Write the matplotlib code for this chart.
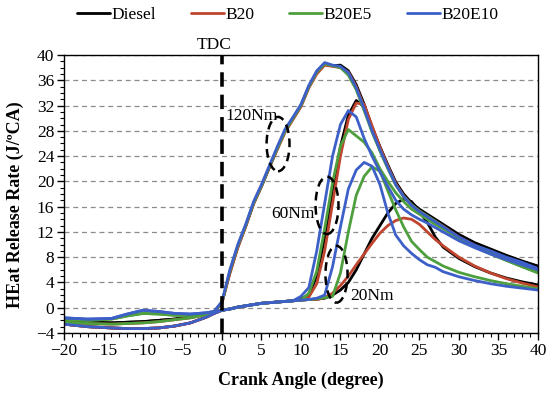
import matplotlib
matplotlib.use("Agg")
import matplotlib.pyplot as plt
from matplotlib.patches import Ellipse

plt.rcParams['font.family'] = ['Liberation Serif', 'DejaVu Serif']
plt.rcParams['font.size'] = 12.5

# crank angle grid (degree)
crank = [-20, -17, -14, -12, -10, -8, -6, -4, -2, -1,
         0, 1, 2, 3, 4, 5, 6, 7, 8, 9, 10, 11, 12, 13, 14, 15, 16, 17, 18, 19,
         20, 21, 22, 23, 24, 25, 26, 27, 28,
         30, 32, 34, 36, 38, 40]

# heat release rate (J/ºCA), 120 Nm
diesel_120 = [-2.2, -2.3, -2.4, -2.3, -2.2, -2.0, -1.8, -1.5, -1.0, -0.7,
              0.8, 5.6, 9.6, 12.9, 16.5, 19.2, 22.2, 25.2, 28.0, 30.0, 32.0, 35.0, 37.2, 38.5, 38.3, 38.4, 37.5, 35.3, 32.2, 28.6,
              25.5, 22.6, 19.9, 18.0, 16.6, 15.6, 14.8, 14.0, 13.2,
              11.6, 10.3, 9.3, 8.3, 7.4, 6.6]
b20_120 = [-2.3, -2.5, -2.6, -2.5, -2.4, -2.2, -1.9, -1.6, -1.1, -0.7,
           0.8, 5.4, 9.5, 12.8, 16.4, 19.2, 22.2, 25.0, 27.8, 29.8, 31.8, 34.8, 37.0, 38.4, 38.2, 38.0, 37.3, 35.0, 31.8, 28.3,
           25.2, 22.3, 19.6, 17.7, 16.3, 15.3, 14.5, 13.7, 12.9,
           11.2, 9.9, 8.8, 7.9, 7.0, 6.2]
b20e5_120 = [-1.9, -2.0, -1.8, -1.3, -0.9, -1.0, -1.2, -1.2, -0.9, -0.6,
             0.9, 5.8, 9.8, 13.0, 16.6, 19.3, 22.3, 25.2, 28.0, 30.0, 32.0, 35.0, 37.3, 38.6, 38.3, 38.0, 36.8, 34.5, 31.2, 27.8,
             24.8, 22.0, 19.4, 17.6, 16.3, 15.3, 14.5, 13.7, 12.8,
             11.0, 9.6, 8.5, 7.5, 6.5, 5.6]
b20e10_120 = [-1.6, -1.8, -1.7, -1.0, -0.4, -0.6, -0.9, -1.0, -0.8, -0.6,
              1.0, 6.0, 10.0, 13.2, 16.8, 19.5, 22.5, 25.5, 28.3, 30.2, 32.2, 35.2, 37.5, 38.8, 38.4, 38.2, 37.2, 34.8, 31.5, 28.0,
              25.0, 22.2, 19.5, 17.6, 16.2, 15.2, 14.4, 13.6, 12.8,
              11.2, 9.9, 9.0, 8.0, 7.2, 6.2]

# 60 Nm
diesel_60 = [-2.2, -2.3, -2.4, -2.3, -2.2, -2.0, -1.8, -1.5, -1.0, -0.7,
             -0.4, -0.2, 0.1, 0.3, 0.5, 0.7, 0.8, 0.9, 1.0, 1.1, 1.4, 2.0, 5.0, 11.0, 18.5, 25.5, 30.5, 32.8, 31.8, 28.4,
             25.3, 22.4, 19.7, 17.8, 16.4, 15.4, 14.6, 13.8, 13.0,
             11.4, 10.1, 9.1, 8.2, 7.3, 6.5]
b20_60 = [-2.6, -3.0, -3.2, -3.3, -3.3, -3.2, -2.9, -2.4, -1.5, -0.9,
          -0.4, -0.2, 0.1, 0.3, 0.5, 0.7, 0.8, 0.9, 1.0, 1.1, 1.2, 1.7, 3.8, 9.0, 16.5, 24.0, 29.8, 32.4, 32.2, 28.8,
          25.4, 22.4, 19.6, 17.6, 16.2, 15.2, 14.4, 13.6, 12.8,
          11.1, 9.8, 8.8, 7.8, 6.9, 6.0]
b20e5_60 = [-1.9, -2.0, -1.8, -1.3, -0.9, -1.0, -1.2, -1.2, -0.9, -0.6,
            -0.4, -0.2, 0.1, 0.3, 0.5, 0.7, 0.8, 0.9, 1.0, 1.1, 1.2, 2.3, 5.8, 12.5, 19.8, 25.6, 28.2, 27.2, 26.2, 24.5,
            22.0, 20.0, 18.2, 16.8, 15.6, 14.8, 14.0, 13.2, 12.5,
            11.0, 9.7, 8.6, 7.5, 6.5, 5.5]
b20e10_60 = [-2.6, -3.0, -3.2, -3.3, -3.3, -3.2, -2.9, -2.4, -1.5, -0.9,
             -0.4, -0.2, 0.1, 0.3, 0.5, 0.7, 0.8, 0.9, 1.0, 1.1, 1.8, 3.2, 9.0, 16.5, 24.0, 29.0, 31.2, 30.2, 26.8, 24.0,
             21.5, 19.2, 17.0, 15.6, 14.7, 14.0, 13.4, 12.7, 12.0,
             10.6, 9.5, 8.5, 7.6, 6.8, 6.0]

# 20 Nm
diesel_20 = [-2.6, -3.0, -3.2, -3.3, -3.3, -3.2, -2.9, -2.4, -1.5, -0.9,
             -0.4, -0.2, 0.1, 0.3, 0.5, 0.7, 0.8, 0.9, 1.0, 1.1, 1.2, 1.3, 1.35, 1.5, 2.0, 2.8, 4.0, 6.0, 8.5, 11.0,
             13.0, 15.0, 16.5, 17.2, 16.8, 15.2, 13.5, 11.2, 9.6,
             7.8, 6.5, 5.5, 4.7, 4.1, 3.6]
b20_20 = [-2.6, -3.0, -3.2, -3.3, -3.3, -3.2, -2.9, -2.4, -1.5, -0.9,
          -0.4, -0.2, 0.1, 0.3, 0.5, 0.7, 0.8, 0.9, 1.0, 1.1, 1.2, 1.3, 1.3, 1.6, 2.3, 3.5, 5.0, 6.8, 8.5, 10.2,
          11.8, 13.0, 13.8, 14.2, 14.0, 13.2, 12.0, 10.8, 9.8,
          8.0, 6.6, 5.5, 4.6, 3.9, 3.3]
b20e5_20 = [-2.3, -2.5, -2.6, -2.5, -2.4, -2.2, -1.9, -1.6, -1.1, -0.7,
            -0.4, -0.2, 0.1, 0.3, 0.5, 0.7, 0.8, 0.9, 1.0, 1.1, 1.2, 1.3, 1.4, 1.6, 1.8, 5.5, 12.0, 17.8, 20.8, 22.3,
            21.6, 18.5, 15.5, 12.8, 10.5, 9.2, 8.0, 7.3, 6.6,
            5.6, 4.9, 4.3, 3.8, 3.4, 3.0]
b20e10_20 = [-1.6, -1.8, -1.7, -1.0, -0.4, -0.6, -0.9, -1.0, -0.8, -0.6,
             -0.4, -0.2, 0.1, 0.3, 0.5, 0.7, 0.8, 0.9, 1.0, 1.1, 1.2, 1.3, 1.5, 2.0, 6.5, 12.8, 18.8, 21.8, 23.0, 22.4,
             19.5, 15.0, 11.5, 9.8, 8.6, 7.6, 6.8, 6.4, 5.7,
             4.9, 4.3, 3.8, 3.4, 3.1, 2.8]

fuels = ['Diesel', 'B20', 'B20E5', 'B20E10']
colors = ['black', '#C0452E', '#4E9F3D', '#3D5FC8']
series = [[diesel_120, diesel_60, diesel_20],
          [b20_120, b20_60, b20_20],
          [b20e5_120, b20e5_60, b20e5_20],
          [b20e10_120, b20e10_60, b20e10_20]]

fig = plt.figure(figsize=(5.5, 3.96), dpi=100)
ax = fig.add_axes([0.1164, 0.1591, 0.8616, 0.702])

handles = []
for name, col, curves in zip(fuels, colors, series):
    for i, y in enumerate(curves):
        ln, = ax.plot(crank, y, color=col, lw=2.0, label=name if i == 0 else None,
                      solid_joinstyle='round', solid_capstyle='round')
        if i == 0:
            handles.append(ln)

# TDC line
ax.axvline(0, color='black', lw=2.6, ls=(0, (4, 2.2)), zorder=5)
ax.text(-1, 41.6, 'TDC', ha='center', va='center', clip_on=False)

# load annotations
for (cx, cy, w, h) in [(7.1, 25.9, 2.9, 8.6), (13.3, 16.2, 2.9, 9.1), (14.5, 5.3, 2.8, 9.0)]:
    ax.add_patch(Ellipse((cx, cy), w, h, fill=False, ec='black', lw=1.8,
                         ls=(0, (3.5, 2.2)), zorder=6))
ax.text(3.8, 30.4, '120Nm', ha='center', va='center')
ax.text(9.0, 14.9, '60Nm', ha='center', va='center')
ax.text(19.0, 1.8, '20Nm', ha='center', va='center')

ax.set_xlim(-20, 40)
ax.set_ylim(-4, 40)
ax.set_xticks(range(-20, 41, 5))
ax.set_xticks(range(-20, 41, 1), minor=True)
ax.set_yticks(range(-4, 41, 4))
ax.set_yticks(range(-4, 41, 1), minor=True)
ax.tick_params(which='major', direction='out', length=5, width=1, pad=2)
ax.tick_params(which='minor', direction='out', length=3, width=0.8)
ax.yaxis.grid(True, which='major', color='#8c8c8c', ls=(0, (4, 3)), lw=0.9)
ax.set_axisbelow(True)
for s in ax.spines.values():
    s.set_linewidth(1.0)

ax.set_xlabel('Crank Angle (degree)', fontsize=13, fontweight='bold')
ax.set_ylabel('HEat Release Rate (J/ºCA)', fontsize=13, fontweight='bold')
ax.xaxis.set_label_coords(0.5, -0.14)
ax.yaxis.set_label_coords(-0.084, 0.46)

fig.legend(handles=handles, loc='center', bbox_to_anchor=(0.523, 0.962), ncol=4,
           frameon=False, handlelength=1.9, handletextpad=0.1, columnspacing=2.0)

fig.savefig('out.png', dpi=100)
